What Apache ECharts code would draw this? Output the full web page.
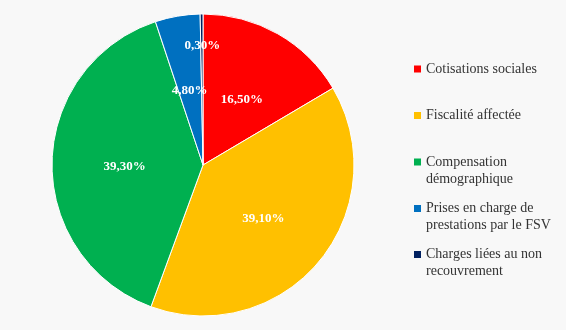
<!DOCTYPE html>
<html><head><meta charset="utf-8">
<script src="https://cdn.jsdelivr.net/npm/echarts@6/dist/echarts.min.js"></script>
<style>html,body{margin:0;padding:0;background:#f8f8f8}#c{width:566px;height:330px}</style>
</head><body><div id="c"></div>
<script>
const categories = ["Cotisations sociales", "Fiscalité affectée", "Compensation\ndémographique", "Prises en charge de\nprestations par le FSV", "Charges liées au non\nrecouvrement"];
const values = [16.5, 39.1, 39.3, 4.8, 0.3];
const colors = ["#FF0000", "#FFC000", "#00B050", "#0070C0", "#002060"];
const legendLineCenters = [69, 115.5, 162, 208.5, 254.5];

const singleIcon = 'path://M0,0M0,13.5L7,13.5L7,20.5L0,20.5ZM7,34';
const doubleIcon = 'path://M0,0M0,5L7,5L7,12L0,12ZM7,34';

const legends = categories.map((name, i) => ({
  orient: 'vertical',
  left: 414,
  top: legendLineCenters[i] - 8.5 - (name.indexOf('\n') < 0 ? 8.5 : 0),
  padding: 0,
  itemWidth: 7,
  itemHeight: 34,
  selectedMode: false,
  data: [{ name: name, icon: name.indexOf('\n') < 0 ? singleIcon : doubleIcon, itemStyle: { color: colors[i], borderWidth: 0 } }],
  textStyle: { fontFamily: 'Liberation Serif', fontSize: 14, lineHeight: 17, color: '#333' }
}));

const chart = echarts.init(document.getElementById('c'));
chart.setOption({
  backgroundColor: '#f8f8f8',
  animation: false,
  color: colors,
  legend: legends,
  series: [{
    type: 'pie',
    center: [203, 165],
    radius: [0, 151],
    startAngle: 90,
    clockwise: true,
    avoidLabelOverlap: false,
    itemStyle: { borderColor: '#ffffff', borderWidth: 1 },
    label: {
      show: true,
      position: 'inside',
      color: '#ffffff',
      fontFamily: 'Liberation Serif',
      fontWeight: 'bold',
      fontSize: 13,
      formatter: p => p.value.toFixed(2).replace('.', ',') + '%'
    },
    labelLayout: p => (p.dataIndex === 4 ? { dy: -41 } : { dy: 3 }),
    labelLine: { show: false },
    emphasis: { disabled: true },
    data: categories.map((n, i) => ({ name: n, value: values[i] }))
  }]
});
</script></body></html>
